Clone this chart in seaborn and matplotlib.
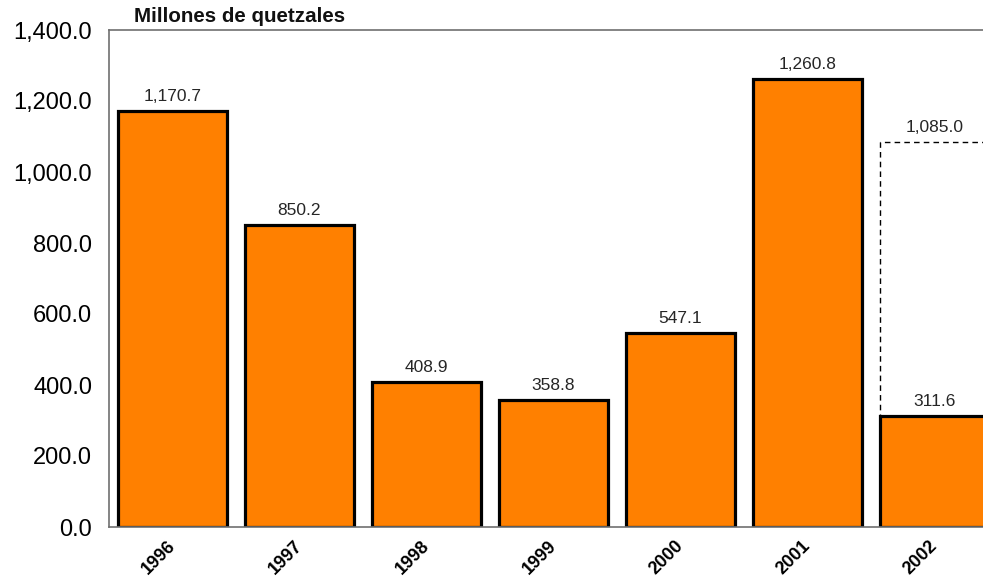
import pandas as pd
import matplotlib.pyplot as plt
import numpy as np
import seaborn as sns
from matplotlib.ticker import FuncFormatter

years = ["1996", "1997", "1998", "1999", "2000", "2001", "2002"]
valores = [1170.7, 850.2, 408.9, 358.8, 547.1, 1260.8, 311.6]
# 2002 projected total (dashed outline)
proyeccion = [np.nan, np.nan, np.nan, np.nan, np.nan, np.nan, 1085.0]

df = pd.DataFrame({"year": years, "valor": valores, "proy": proyeccion})

sns.set_style("white")
plt.rcParams['font.family'] = ['Liberation Sans', 'DejaVu Sans']

fig = plt.figure(figsize=(9.83, 5.79), dpi=100)
ax = fig.add_axes([109/983, 52/579, 889/983, 497/579])

# dashed projection bar behind
sns.barplot(data=df, x="year", y="proy", order=years, color="white", width=0.866,
            edgecolor="black", linewidth=1.0, linestyle=(0, (4, 3)), ax=ax, zorder=1)
sns.barplot(data=df, x="year", y="valor", order=years, color="#FF8000", saturation=1,
            width=0.866, edgecolor="black", linewidth=2.3, ax=ax, zorder=2)

fmt = lambda v: f"{v:,.1f}"
for cont in ax.containers:
    labs = [fmt(b.get_height()) if not np.isnan(b.get_height()) and b.get_height() > 0 else ""
            for b in cont]
    ax.bar_label(cont, labels=labs, padding=5, fontsize=12.5, color="#262626")

ax.set_xlim(-0.5, 6.5)
ax.set_ylim(0, 1400)
ax.set_yticks(np.arange(0, 1401, 200))
ax.yaxis.set_major_formatter(FuncFormatter(lambda v, p: f"{v:,.1f}"))
ax.tick_params(axis='y', length=0, labelsize=17, pad=12, labelcolor="black")
ax.tick_params(axis='x', length=0, labelsize=13, pad=12, labelcolor="black")
for lab in ax.get_xticklabels():
    lab.set_rotation(45)
    lab.set_fontweight("bold")
    lab.set_ha("right")
    lab.set_va("center")
    lab.set_rotation_mode("anchor")

ax.set_xlabel("")
ax.set_ylabel("")
for s in ["left", "top", "bottom"]:
    ax.spines[s].set_color("#6f6f6f")
    ax.spines[s].set_linewidth(1.2)
ax.spines["right"].set_visible(False)

fig.text(134/983, 1 - 17/579, "Millones de quetzales", fontsize=14.8, va="center",
         fontweight="bold", color="#111111")

plt.savefig("out.png", dpi=100)
plt.close()
